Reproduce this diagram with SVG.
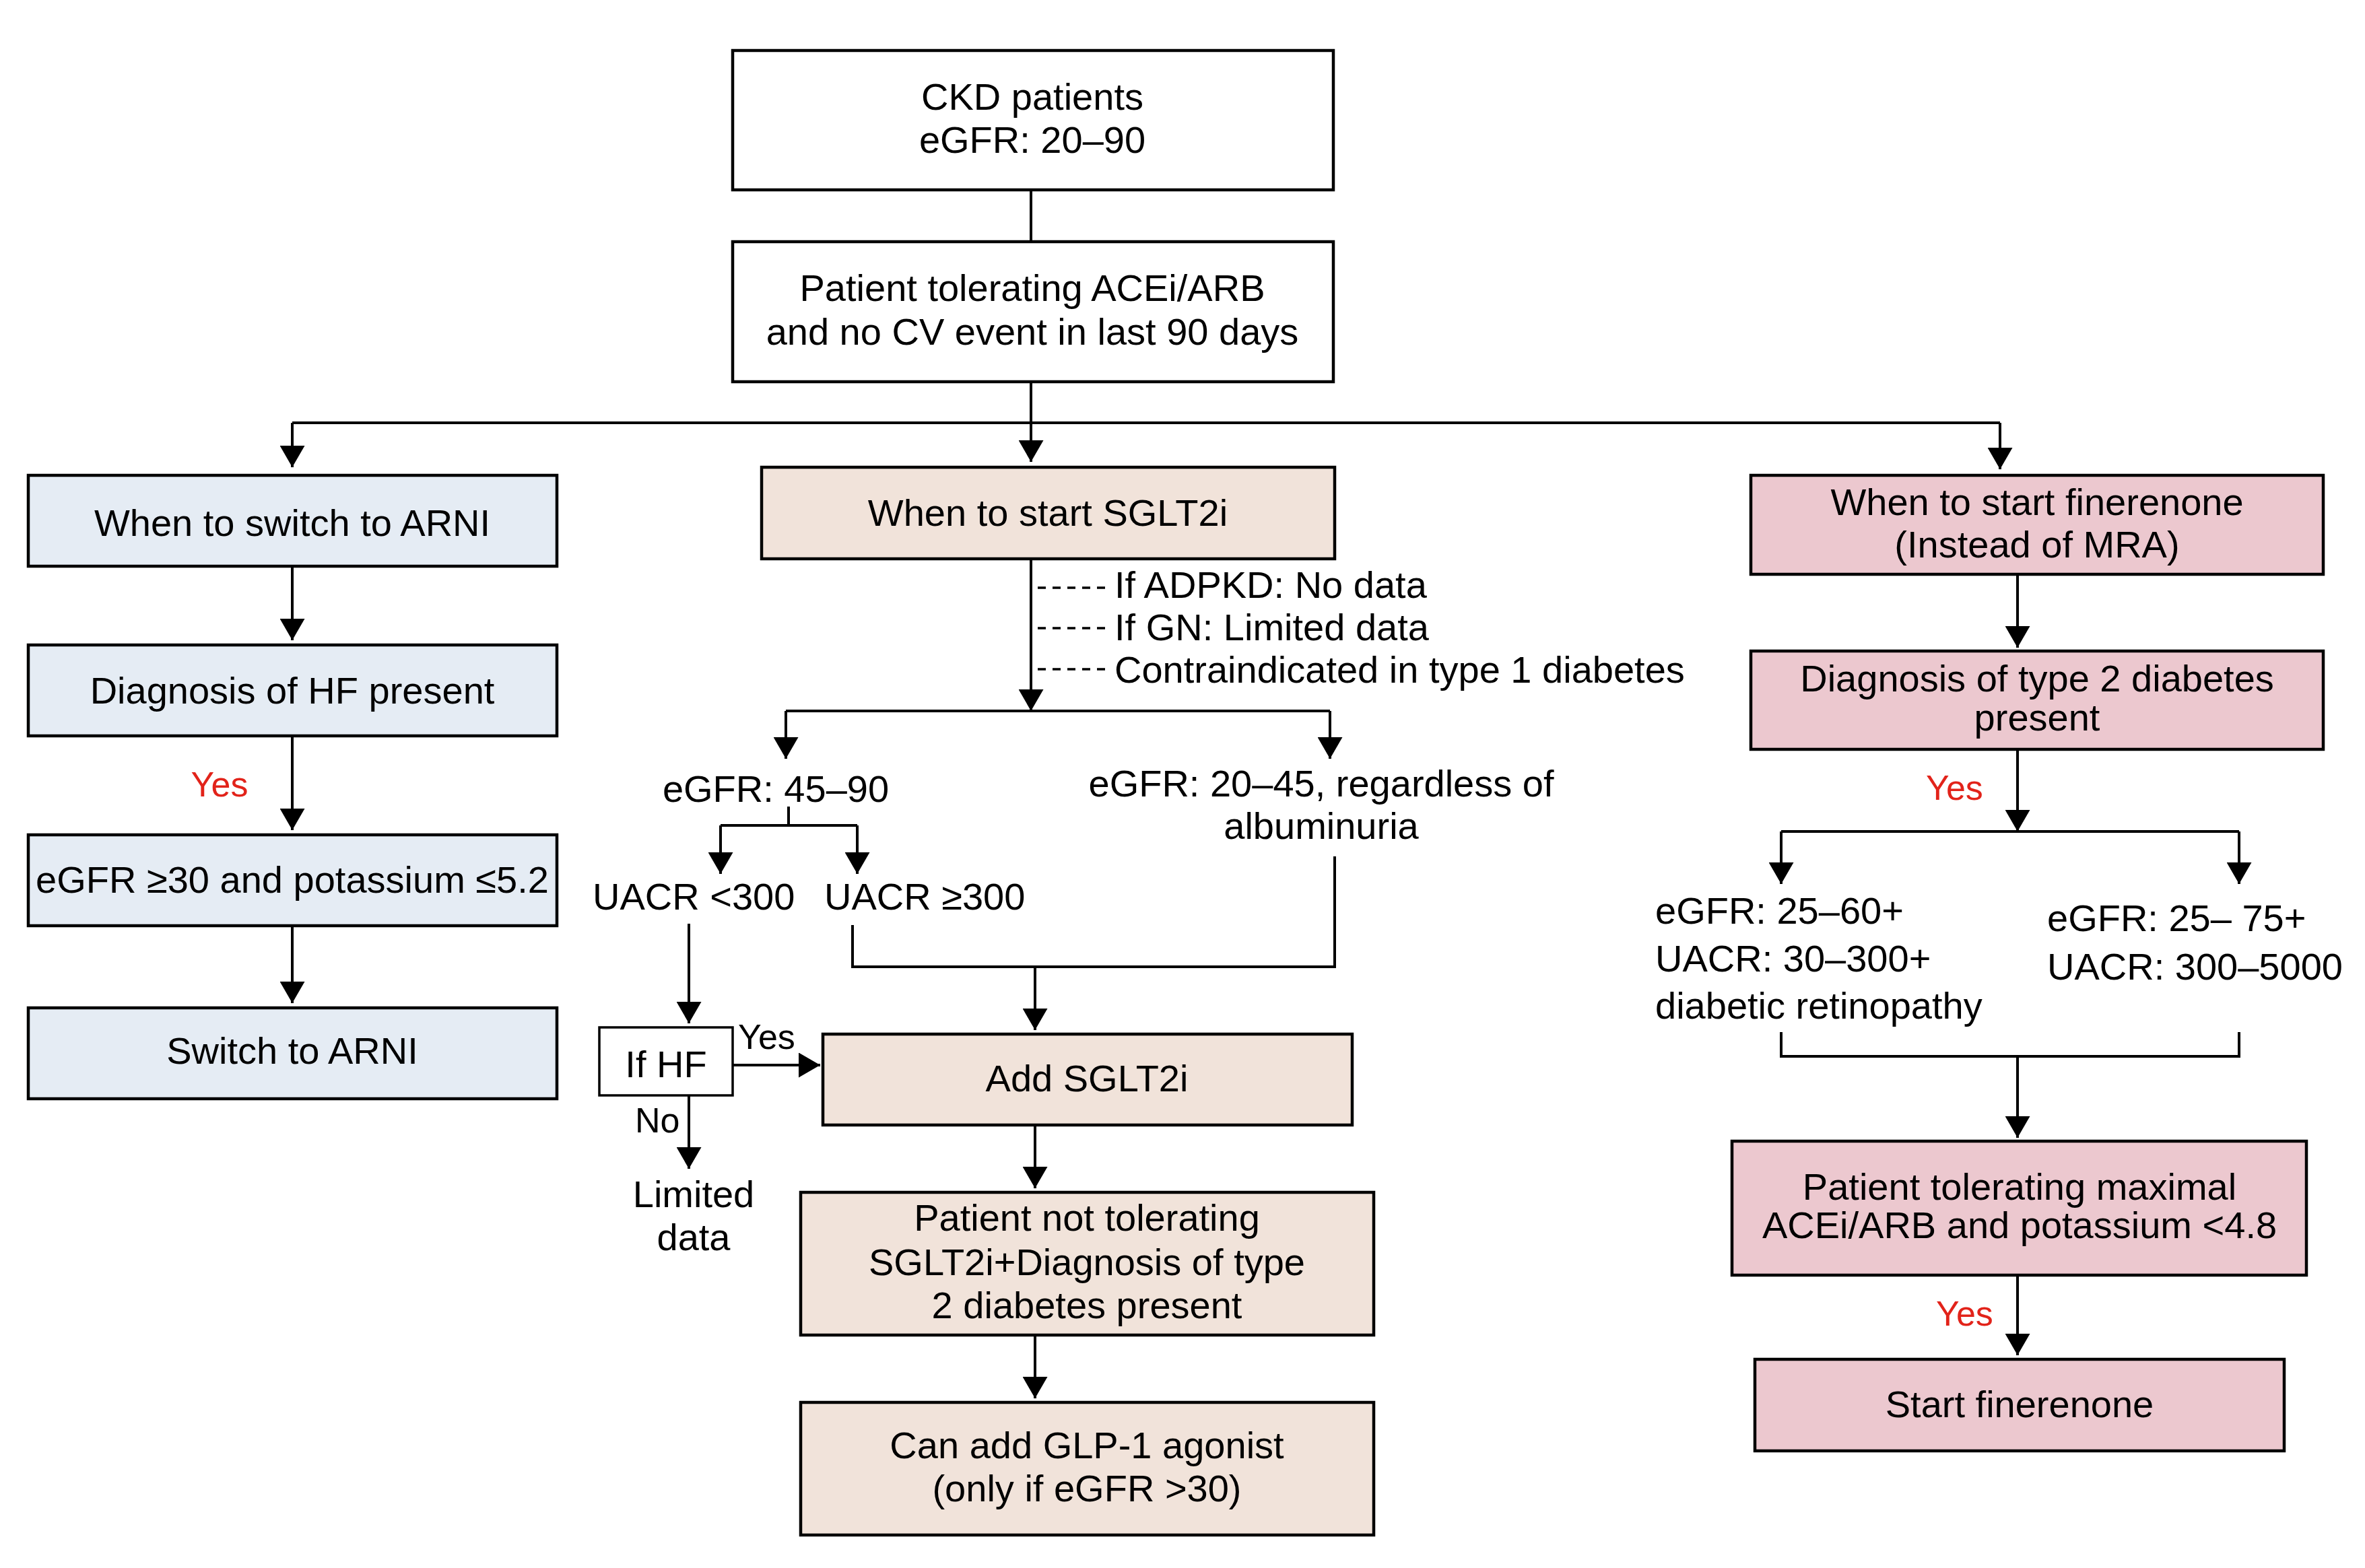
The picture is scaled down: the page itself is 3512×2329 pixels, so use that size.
<svg xmlns="http://www.w3.org/2000/svg" width="3512" height="2329" viewBox="0 0 3512 2329">
<defs>
<style>
.box{stroke:#000;stroke-width:4.5}
.blue{fill:#E5ECF4}
.peach{fill:#F1E3DA}
.pink{fill:#ECC8CF}
.white{fill:#FFFFFF}
text{font-family:"Liberation Sans",Arial,sans-serif;font-size:56px;fill:#000}
.c{text-anchor:middle}
.red{fill:#E2231A;font-size:52px}
.sm{font-size:52px}
.conn{stroke:#000;stroke-width:4;fill:none}
.arr{marker-end:url(#ah)}
.dash{stroke-dasharray:12 10;stroke-dashoffset:-8;stroke-width:3.5}
</style>
<marker id="ah" viewBox="0 0 32 37" refX="32" refY="18.5" markerWidth="32" markerHeight="37" markerUnits="userSpaceOnUse" orient="auto">
<path d="M0,0 L32,18.5 L0,37 Z" fill="#000"/>
</marker>
</defs>
<rect width="3512" height="2329" fill="#FFFFFF"/>

<g id="connectors">
<path class="conn" d="M1531,282 V358"/>
<path class="conn arr" d="M1531,567 V686"/>
<path class="conn" d="M434,628 H2970"/>
<path class="conn arr" d="M434,628 V694"/>
<path class="conn arr" d="M2970,628 V697"/>
<path class="conn arr" d="M434,841 V951"/>
<path class="conn arr" d="M434,1093 V1233"/>
<path class="conn arr" d="M434,1375 V1490"/>
<path class="conn arr" d="M1531,830 V1056"/>
<path class="conn dash" d="M1533,873 H1646"/>
<path class="conn dash" d="M1533,933 H1646"/>
<path class="conn dash" d="M1533,994 H1646"/>
<path class="conn" d="M1167,1056 H1975"/>
<path class="conn arr" d="M1167,1056 V1127"/>
<path class="conn arr" d="M1975,1056 V1127"/>
<path class="conn" d="M1171,1198 V1226 M1070,1226 H1273"/>
<path class="conn arr" d="M1070,1226 V1298"/>
<path class="conn arr" d="M1273,1226 V1298"/>
<path class="conn" d="M1266,1374 V1436 H1982 V1272"/>
<path class="conn arr" d="M1537,1436 V1530"/>
<path class="conn arr" d="M1023,1372 V1520"/>
<path class="conn arr" d="M1088,1582 H1218"/>
<path class="conn arr" d="M1023,1627 V1736"/>
<path class="conn arr" d="M1537,1671 V1765"/>
<path class="conn arr" d="M1537,1983 V2077"/>
<path class="conn arr" d="M2996,853 V962"/>
<path class="conn arr" d="M2996,1113 V1235"/>
<path class="conn" d="M2645,1235 H3325"/>
<path class="conn arr" d="M2645,1235 V1313"/>
<path class="conn arr" d="M3325,1235 V1313"/>
<path class="conn" d="M2645,1533 V1569 H3325 V1533"/>
<path class="conn arr" d="M2996,1569 V1690"/>
<path class="conn arr" d="M2996,1894 V2013"/>
</g>

<g id="n-ckd">
<rect class="box white" x="1088" y="75" width="892" height="207"/>
<text class="c" x="1533" y="163">CKD patients</text>
<text class="c" x="1533" y="227">eGFR: 20–90</text>
</g>
<g id="n-tolerating">
<rect class="box white" x="1088" y="359" width="892" height="208"/>
<text class="c" x="1533" y="447">Patient tolerating ACEi/ARB</text>
<text class="c" x="1533" y="512">and no CV event in last 90 days</text>
</g>

<g id="n-arni-when">
<rect class="box blue" x="42" y="706" width="785" height="135"/>
<text class="c" x="434" y="796">When to switch to ARNI</text>
</g>
<g id="n-hf">
<rect class="box blue" x="42" y="958" width="785" height="135"/>
<text class="c" x="434" y="1045">Diagnosis of HF present</text>
</g>
<text id="l-yes1" class="red c" x="326" y="1183">Yes</text>
<g id="n-egfr30">
<rect class="box blue" x="42" y="1240" width="785" height="135"/>
<text class="c" x="434" y="1326">eGFR ≥30 and potassium ≤5.2</text>
</g>
<g id="n-switch">
<rect class="box blue" x="42" y="1497" width="785" height="135"/>
<text class="c" x="434" y="1580">Switch to ARNI</text>
</g>

<g id="n-sglt2-when">
<rect class="box peach" x="1131" y="694" width="851" height="136"/>
<text class="c" x="1556" y="781">When to start SGLT2i</text>
</g>
<g id="n-notes">
<text x="1655" y="888">If ADPKD: No data</text>
<text x="1655" y="951">If GN: Limited data</text>
<text x="1655" y="1014">Contraindicated in type 1 diabetes</text>
</g>
<text id="n-egfr4590" class="c" x="1152" y="1191">eGFR: 45–90</text>
<g id="n-egfr2045">
<text class="c" x="1962" y="1183">eGFR: 20–45, regardless of</text>
<text class="c" x="1962" y="1246">albuminuria</text>
</g>
<text id="n-uacr-lt" x="880" y="1351">UACR &lt;300</text>
<text id="n-uacr-ge" x="1224" y="1351">UACR ≥300</text>
<g id="n-ifhf">
<rect class="box white" x="890" y="1526" width="198" height="101" style="stroke-width:3.5"/>
<text class="c" x="989" y="1600">If HF</text>
</g>
<text id="l-yes-hf" class="sm" x="1096" y="1558">Yes</text>
<text id="l-no-hf" class="sm" x="943" y="1682">No</text>
<g id="n-limited">
<text class="c" x="1030" y="1793">Limited</text>
<text class="c" x="1030" y="1857">data</text>
</g>
<g id="n-add">
<rect class="box peach" x="1222" y="1536" width="786" height="135"/>
<text class="c" x="1614" y="1621">Add SGLT2i</text>
</g>
<g id="n-nottol">
<rect class="box peach" x="1189" y="1771" width="851" height="212"/>
<text class="c" x="1614" y="1828">Patient not tolerating</text>
<text class="c" x="1614" y="1894">SGLT2i+Diagnosis of type</text>
<text class="c" x="1614" y="1958">2 diabetes present</text>
</g>
<g id="n-glp1">
<rect class="box peach" x="1189" y="2083" width="851" height="197"/>
<text class="c" x="1614" y="2166">Can add GLP-1 agonist</text>
<text class="c" x="1614" y="2230">(only if eGFR &gt;30)</text>
</g>

<g id="n-fin-when">
<rect class="box pink" x="2600" y="706" width="850" height="147"/>
<text class="c" x="3025" y="765">When to start finerenone</text>
<text class="c" x="3025" y="828">(Instead of MRA)</text>
</g>
<g id="n-t2d">
<rect class="box pink" x="2600" y="967" width="850" height="146"/>
<text class="c" x="3025" y="1027">Diagnosis of type 2 diabetes</text>
<text class="c" x="3025" y="1085">present</text>
</g>
<text id="l-yes2" class="red" x="2860" y="1188">Yes</text>
<g id="n-fin-a">
<text x="2458" y="1372">eGFR: 25–60+</text>
<text x="2458" y="1443">UACR: 30–300+</text>
<text x="2458" y="1513">diabetic retinopathy</text>
</g>
<g id="n-fin-b">
<text x="3040" y="1383">eGFR: 25– 75+</text>
<text x="3040" y="1455">UACR: 300–5000</text>
</g>
<g id="n-maxacei">
<rect class="box pink" x="2572" y="1695" width="853" height="199"/>
<text class="c" x="2999" y="1782">Patient tolerating maximal</text>
<text class="c" x="2999" y="1839">ACEi/ARB and potassium &lt;4.8</text>
</g>
<text id="l-yes3" class="red" x="2875" y="1969">Yes</text>
<g id="n-start">
<rect class="box pink" x="2606" y="2019" width="786" height="136"/>
<text class="c" x="2999" y="2105">Start finerenone</text>
</g>
</svg>
